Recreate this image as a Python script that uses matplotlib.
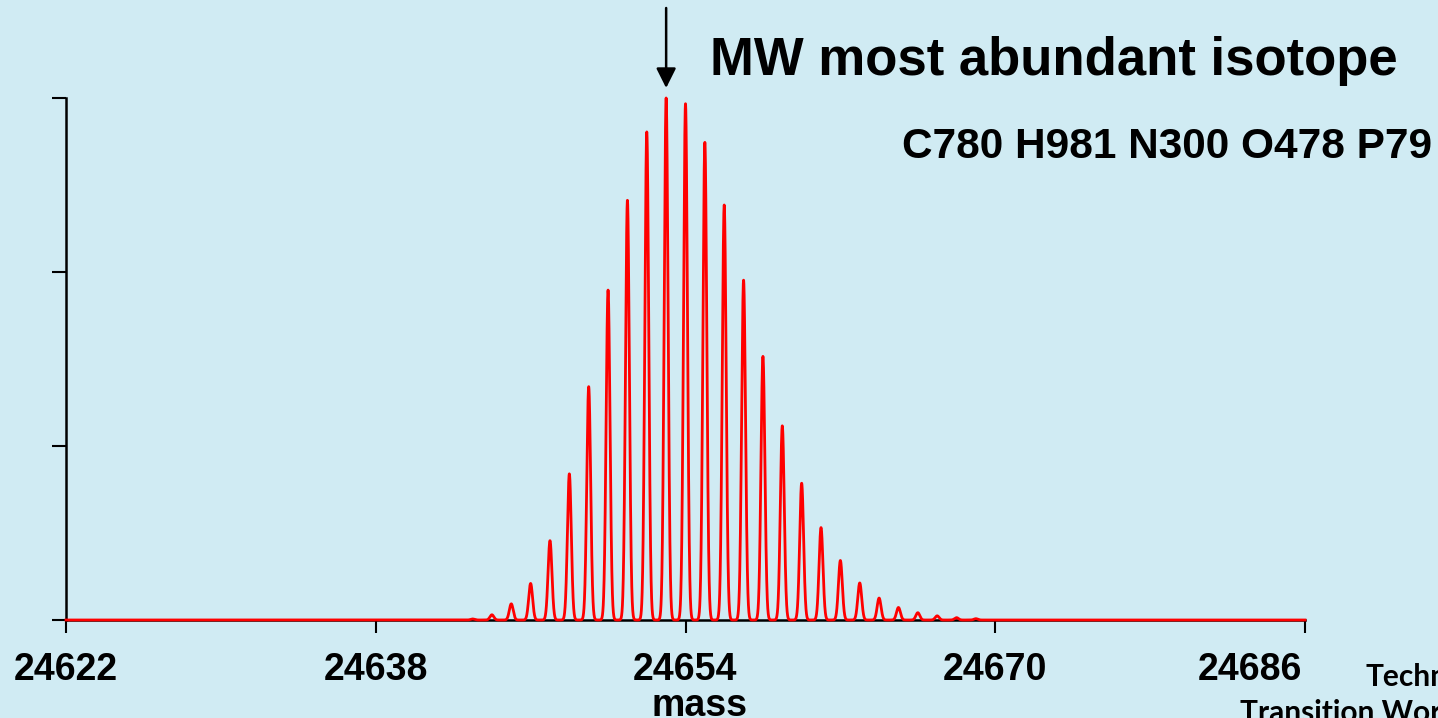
import numpy as np
import matplotlib.pyplot as plt
import matplotlib.transforms as mtransforms

# isotope peaks: nominal mass and relative abundance
masses = np.arange(24643, 24670)
abundance = [0.002, 0.010, 0.031, 0.070, 0.152, 0.280, 0.447, 0.632, 0.804,
             0.935, 1.000, 0.989, 0.915, 0.795, 0.651, 0.505, 0.372, 0.262,
             0.177, 0.114, 0.071, 0.042, 0.024, 0.014, 0.008, 0.0045, 0.0025]
xticks = [24622, 24638, 24654, 24670, 24686]
most_abundant = 24653
formula = 'C780 H981 N300 O478 P79'

bg = '#d0ebf3'
plt.rcParams['font.family'] = ['Liberation Sans', 'DejaVu Sans']
plt.rcParams['font.weight'] = 'bold'

fig = plt.figure(figsize=(14.38, 7.18), dpi=100, facecolor=bg)
ax = fig.add_axes([66 / 1438, 1 - 620 / 718, 1239 / 1438, 522 / 718])
ax.set_facecolor(bg)

# profile spectrum: gaussian line shape for each isotope peak
x = np.linspace(xticks[0], xticks[-1], 12801)
sigma = 0.1
y = np.zeros_like(x)
for m, a in zip(masses, abundance):
    y += a * np.exp(-0.5 * ((x - m) / sigma) ** 2)
ax.plot(x, y, color='red', lw=2.0, clip_on=False, zorder=5)

ax.set_xlim(xticks[0], xticks[-1])
ax.set_ylim(0, 1.0)
ax.set_xticks(xticks)
ax.set_xticklabels([str(t) for t in xticks], fontsize=27, fontweight='bold')
ax.set_yticks([0, 1 / 3, 2 / 3, 1])
ax.set_yticklabels([])
ax.tick_params(axis='x', length=9, width=1.5, pad=14, direction='out')
ax.tick_params(axis='y', length=10, width=1.5, direction='out')
for s in ['top', 'right']:
    ax.spines[s].set_visible(False)
for s in ['left', 'bottom']:
    ax.spines[s].set_linewidth(1.8)
ax.set_xlabel('mass', fontsize=27, fontweight='bold')
ax.xaxis.set_label_coords((700 - 66) / 1239, -0.131)

# last tick label sits left of its tick
last = ax.xaxis.get_major_ticks()[-1].label1
last.set_transform(last.get_transform() +
                   mtransforms.ScaledTranslation(-0.55, 0, fig.dpi_scale_trans))

# arrow to the most abundant isotope
ax.annotate('', xy=(most_abundant, 1.0 + 10 / 522), xycoords='data',
            xytext=(most_abundant, 1.0 + 90 / 522), textcoords='data',
            arrowprops=dict(arrowstyle='-|>', color='black', lw=1.8,
                            mutation_scale=30, shrinkA=0, shrinkB=0),
            annotation_clip=False)

fig.text(710 / 1438, 1 - 75 / 718, 'MW most abundant isotope', fontsize=38,
         fontweight='bold', va='baseline', ha='left')
fig.text(902 / 1438, 1 - 158 / 718, formula, fontsize=30.5,
         fontweight='bold', va='baseline', ha='left')

# footer
fig.text(1366 / 1438, 1 - 686 / 718, 'Technology', fontsize=21.5,
         fontweight='bold', family='Lato', va='baseline', ha='left')
fig.text(1240 / 1438, 1 - 722 / 718, 'Transition Workshop', fontsize=21.5,
         fontweight='bold', family='Lato', va='baseline', ha='left')

fig.savefig('out.png', dpi=100, facecolor=bg)
